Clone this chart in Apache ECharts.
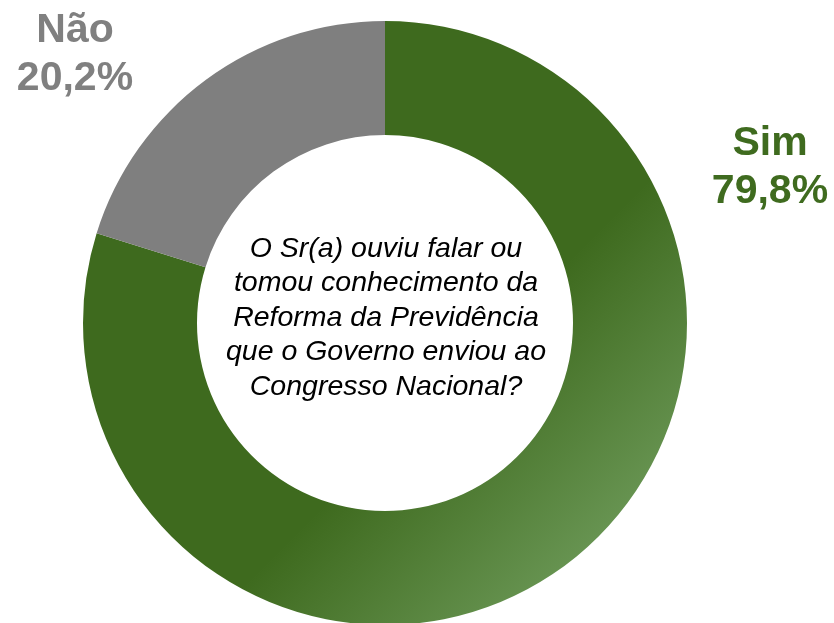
<!DOCTYPE html>
<html>
<head>
<meta charset="utf-8">
<script src="https://cdn.jsdelivr.net/npm/echarts@6/dist/echarts.min.js"></script>
<style>
	html, body { margin: 0; padding: 0; background: #fff; }
	#pieDiv { width: 834px; height: 623px; }
</style>
</head>
<body>
<div id="pieDiv"></div>
<script>
var categories = ["Sim", "Não"];
var values = [79.8, 20.2];
var labelTexts = ["79,8%", "20,2%"];
var question = "O Sr(a) ouviu falar ou\ntomou conhecimento da\nReforma da Previdência\nque o Governo enviou ao\nCongresso Nacional?";

// cores de cada fatia
var greenFill = new echarts.graphic.LinearGradient(0, 0, 1, 1, [
	{ offset: 0, color: "#3e6a1e" },
	{ offset: 0.6, color: "#3e6a1e" },
	{ offset: 1, color: "#7eab6e" }
]);
var sliceColors = [greenFill, "#7f7f7f"];
var labelColors = ["#3f6b1f", "#808080"];
// posição dos rótulos (centro do bloco de texto)
var labelPos = [[770, 168], [75, 55]];

var pieData = [];
for (var i = 0; i < categories.length; i++) {
	pieData.push({
		name : categories[i],
		value : values[i],
		itemStyle : { color : sliceColors[i] },
		label : { color : labelColors[i] }
	});
}

var pieChart = echarts.init(document.getElementById('pieDiv'));
pieChart.setOption({
	animation : false,
	series : [{
		type : 'pie',
		center : [385, 323],
		radius : [188, 302],
		startAngle : 90,
		clockwise : true,
		emphasis : { disabled : true },
		label : {
			show : true,
			position : 'outside',
			fontFamily : 'Liberation Sans, Arial, sans-serif',
			fontWeight : 'bold',
			fontSize : 41,
			lineHeight : 48,
			formatter : function(p) {
				return p.name + "\n" + labelTexts[p.dataIndex];
			}
		},
		labelLine : { show : false },
		labelLayout : function(p) {
			return {
				x : labelPos[p.dataIndex][0],
				y : labelPos[p.dataIndex][1],
				align : 'center',
				verticalAlign : 'middle'
			};
		},
		data : pieData
	}],
	graphic : [{
		type : 'text',
		x : 386,
		y : 318,
		style : {
			text : question,
			fill : '#000',
			font : 'italic 28.5px "Liberation Sans", Arial, sans-serif',
			lineHeight : 34.5,
			align : 'center',
			verticalAlign : 'middle'
		}
	}]
});
</script>
</body>
</html>
